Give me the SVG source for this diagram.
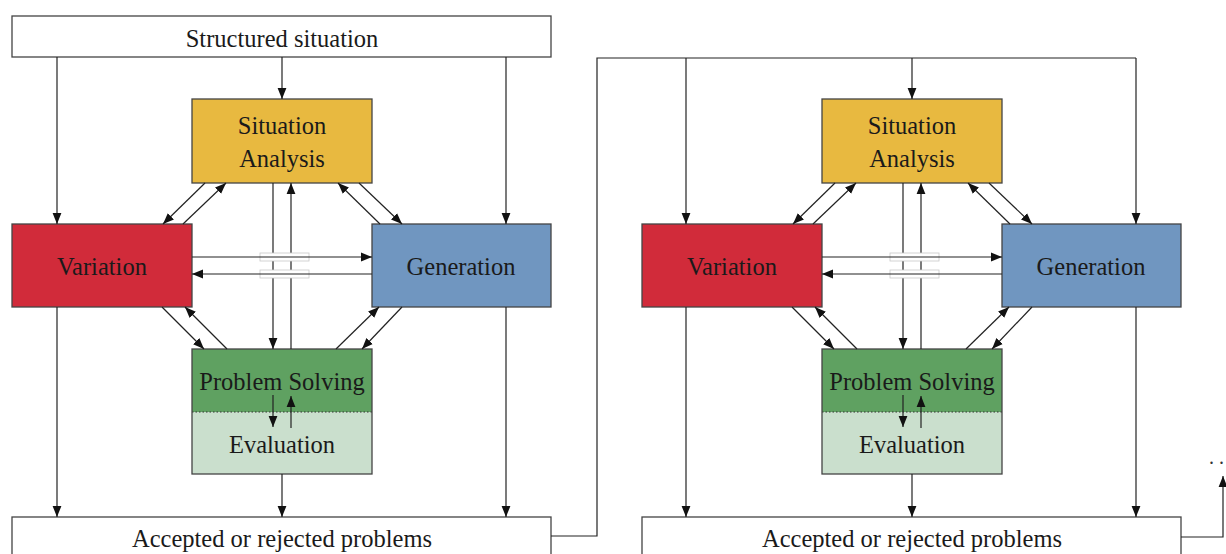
<svg xmlns="http://www.w3.org/2000/svg" width="1226" height="554" viewBox="0 0 1226 554">
<defs>
<marker id="ah" viewBox="0 0 11 10" refX="11" refY="5" markerWidth="11" markerHeight="10" markerUnits="userSpaceOnUse" orient="auto">
<path d="M0,0.6 L11,5 L0,9.4 Z" fill="#111"/>
</marker>
<style>
.box{stroke:#444;stroke-width:1.3}
.t{font-family:"Liberation Serif","Times New Roman",serif;font-size:24.5px;fill:#1a1a1a;text-anchor:middle}
.c{fill:none;stroke:#222;stroke-width:1.2}
.a{fill:none;stroke:#222;stroke-width:1.2;marker-end:url(#ah)}
.br{fill:#fff;stroke:#c8c8c8;stroke-width:0.8}
</style>
</defs>
<rect width="1226" height="554" fill="#fff"/>

<g id="structured">
<rect class="box" x="12" y="16" width="539" height="41" fill="#fff"/>
<text class="t" x="282" y="47">Structured situation</text>
</g>

<g id="panel1">
<g id="sa1"><rect class="box" x="192" y="99" width="180" height="84" fill="#E8B940"/>
<text class="t" x="282" y="134">Situation</text><text class="t" x="282" y="167">Analysis</text></g>
<g id="var1"><rect class="box" x="12" y="224" width="180" height="83" fill="#D12B3A"/>
<text class="t" x="102" y="275">Variation</text></g>
<g id="gen1"><rect class="box" x="372" y="224" width="179" height="83" fill="#7096C0"/>
<text class="t" x="461" y="275">Generation</text></g>
<g id="ps1"><rect x="192" y="349" width="180" height="63" fill="#5FA161"/>
<rect x="192" y="412" width="180" height="62" fill="#CADFCD"/>
<line x1="192" y1="412" x2="372" y2="412" stroke="#333" stroke-width="1" stroke-dasharray="1.5,2"/>
<rect class="box" x="192" y="349" width="180" height="125" fill="none"/>
<text class="t" x="282" y="390">Problem Solving</text>
<text class="t" x="282" y="453">Evaluation</text></g>
<g id="acc1"><rect class="box" x="12" y="517" width="539" height="50" fill="#fff"/>
<text class="t" x="282" y="547">Accepted or rejected problems</text></g>
</g>

<g id="panel2">
<g id="sa2"><rect class="box" x="822" y="99" width="180" height="84" fill="#E8B940"/>
<text class="t" x="912" y="134">Situation</text><text class="t" x="912" y="167">Analysis</text></g>
<g id="var2"><rect class="box" x="642" y="224" width="180" height="83" fill="#D12B3A"/>
<text class="t" x="732" y="275">Variation</text></g>
<g id="gen2"><rect class="box" x="1002" y="224" width="179" height="83" fill="#7096C0"/>
<text class="t" x="1091" y="275">Generation</text></g>
<g id="ps2"><rect x="822" y="349" width="180" height="63" fill="#5FA161"/>
<rect x="822" y="412" width="180" height="62" fill="#CADFCD"/>
<line x1="822" y1="412" x2="1002" y2="412" stroke="#333" stroke-width="1" stroke-dasharray="1.5,2"/>
<rect class="box" x="822" y="349" width="180" height="125" fill="none"/>
<text class="t" x="912" y="390">Problem Solving</text>
<text class="t" x="912" y="453">Evaluation</text></g>
<g id="acc2"><rect class="box" x="642" y="517" width="539" height="50" fill="#fff"/>
<text class="t" x="912" y="547">Accepted or rejected problems</text></g>
</g>

<g id="connectors">
<!-- panel 1 -->
<line class="a" x1="282" y1="57" x2="282" y2="99"/>
<line class="a" x1="57" y1="57" x2="57" y2="224"/>
<line class="a" x1="506" y1="57" x2="506" y2="224"/>
<line class="a" x1="57" y1="307" x2="57" y2="517"/>
<line class="a" x1="282" y1="474" x2="282" y2="517"/>
<line class="a" x1="506" y1="307" x2="506" y2="517"/>
<line class="a" x1="205" y1="183" x2="163" y2="224"/>
<line class="a" x1="183" y1="224" x2="226" y2="183"/>
<line class="a" x1="380" y1="224" x2="338" y2="183"/>
<line class="a" x1="359" y1="183" x2="402" y2="224"/>
<line class="a" x1="162" y1="307" x2="204" y2="349"/>
<line class="a" x1="227" y1="349" x2="185" y2="307"/>
<line class="a" x1="402" y1="307" x2="362" y2="349"/>
<line class="a" x1="336" y1="349" x2="379" y2="307"/>
<line class="a" x1="273" y1="183" x2="273" y2="349"/>
<line class="a" x1="291" y1="349" x2="291" y2="183"/>
<rect class="br" x="260" y="253" width="49" height="8"/>
<rect class="br" x="260" y="270" width="49" height="8"/>
<line class="a" x1="192" y1="257" x2="372" y2="257"/>
<line class="a" x1="372" y1="274" x2="192" y2="274"/>
<line class="a" x1="273" y1="395" x2="273" y2="427"/>
<line class="a" x1="291" y1="428" x2="291" y2="396"/>
<!-- link between panels -->
<polyline class="c" points="551,536 597,536 597,58 1136,58"/>
<!-- panel 2 -->
<line class="a" x1="912" y1="58" x2="912" y2="99"/>
<line class="a" x1="686" y1="58" x2="686" y2="224"/>
<line class="a" x1="1136" y1="58" x2="1136" y2="224"/>
<line class="a" x1="686" y1="307" x2="686" y2="517"/>
<line class="a" x1="912" y1="474" x2="912" y2="517"/>
<line class="a" x1="1136" y1="307" x2="1136" y2="517"/>
<line class="a" x1="835" y1="183" x2="793" y2="224"/>
<line class="a" x1="813" y1="224" x2="856" y2="183"/>
<line class="a" x1="1010" y1="224" x2="968" y2="183"/>
<line class="a" x1="989" y1="183" x2="1032" y2="224"/>
<line class="a" x1="792" y1="307" x2="834" y2="349"/>
<line class="a" x1="857" y1="349" x2="815" y2="307"/>
<line class="a" x1="1032" y1="307" x2="992" y2="349"/>
<line class="a" x1="966" y1="349" x2="1009" y2="307"/>
<line class="a" x1="903" y1="183" x2="903" y2="349"/>
<line class="a" x1="921" y1="349" x2="921" y2="183"/>
<rect class="br" x="890" y="253" width="49" height="8"/>
<rect class="br" x="890" y="270" width="49" height="8"/>
<line class="a" x1="822" y1="257" x2="1002" y2="257"/>
<line class="a" x1="1002" y1="274" x2="822" y2="274"/>
<line class="a" x1="903" y1="395" x2="903" y2="427"/>
<line class="a" x1="921" y1="428" x2="921" y2="396"/>
<!-- continuation -->
<polyline class="a" points="1181,537 1223,537 1223,476"/>
</g>
<text x="1209" y="464" style="font-family:'Liberation Serif',serif;font-size:20px;fill:#333">. .</text>
</svg>
